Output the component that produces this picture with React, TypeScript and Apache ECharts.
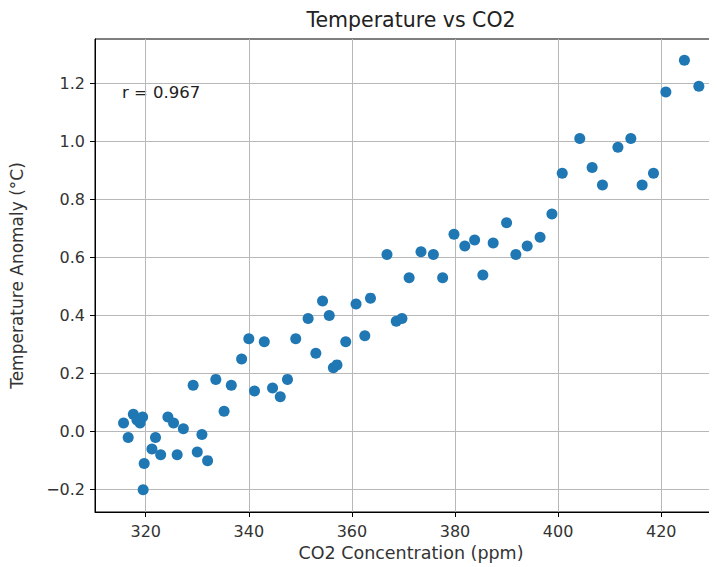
import React, { useEffect, useRef } from "react";
import * as echarts from "echarts";

const co2: number[] = [
  315.7, 316.6, 317.6, 318.3, 318.9, 319.4, 319.5, 319.7, 321.2, 321.9,
  322.9, 324.3, 325.4, 326.1, 327.3, 329.2, 330.0, 330.9, 332.0, 333.6,
  335.2, 336.6, 338.6, 340.0, 341.1, 343.0, 344.6, 346.1, 347.5, 349.1,
  351.5, 353.0, 354.3, 355.6, 356.4, 357.1, 358.8, 360.8, 362.5, 363.6,
  366.8, 368.6, 369.7, 371.1, 373.4, 375.8, 377.6, 379.8, 381.9, 383.8,
  385.4, 387.4, 390.0, 391.8, 394.0, 396.5, 398.8, 400.8, 404.2, 406.6,
  408.6, 411.6, 414.1, 416.3, 418.5, 420.9, 424.5, 427.3,
];
const temp: number[] = [
  0.03, -0.02, 0.06, 0.04, 0.03, 0.05, -0.2, -0.11, -0.06, -0.02,
  -0.08, 0.05, 0.03, -0.08, 0.01, 0.16, -0.07, -0.01, -0.1, 0.18,
  0.07, 0.16, 0.25, 0.32, 0.14, 0.31, 0.15, 0.12, 0.18, 0.32,
  0.39, 0.27, 0.45, 0.4, 0.22, 0.23, 0.31, 0.44, 0.33, 0.46,
  0.61, 0.38, 0.39, 0.53, 0.62, 0.61, 0.53, 0.68, 0.64, 0.66,
  0.54, 0.65, 0.72, 0.61, 0.64, 0.67, 0.75, 0.89, 1.01, 0.91,
  0.85, 0.98, 1.01, 0.85, 0.89, 1.17, 1.28, 1.19,
];
const xTicks: number[] = [320, 340, 360, 380, 400, 420];
const yTicks: number[] = [-0.2, 0, 0.2, 0.4, 0.6, 0.8, 1.0, 1.2];
const titleText = "Temperature vs CO2";
const xLabel = "CO2 Concentration (ppm)";
const yLabel = "Temperature Anomaly (°C)";
const rText = "r = 0.967";

const FONT = "DejaVu Sans";

export default function App() {
  const ref = useRef<HTMLDivElement>(null);
  useEffect(() => {
    if (!ref.current) return;
    const chart = echarts.init(ref.current, null, { renderer: "svg" });
    const data = co2.map((c, i) => [c, temp[i]]);
    chart.setOption({
      animation: false,
      backgroundColor: "#ffffff",
      grid: {
        left: 95,
        top: 39,
        right: -10,
        bottom: 55,
        outerBoundsMode: "none",
        containLabel: false,
        show: true,
        borderColor: "#000000",
        borderWidth: 1,
        backgroundColor: "transparent",
      },
      graphic: [
        {
          type: "text",
          x: 411,
          y: 20,
          style: {
            text: titleText,
            font: `20.5px '${FONT}'`,
            fill: "#222",
            textAlign: "center",
            textVerticalAlign: "middle",
          },
        },
        {
          type: "text",
          x: 122,
          y: 92,
          style: {
            text: rText,
            font: `16.5px '${FONT}'`,
            fill: "#222",
            textVerticalAlign: "middle",
          },
        },
      ],
      xAxis: {
        type: "value",
        min: 310.16,
        max: 432.76,
        name: xLabel,
        nameLocation: "middle",
        nameGap: 31,
        nameTextStyle: { fontFamily: FONT, fontSize: 17.5, color: "#333" },
        axisLine: { show: true, onZero: false, lineStyle: { color: "#000", width: 1 } },
        axisTick: { show: true, length: 5, customValues: xTicks, lineStyle: { color: "#000" } },
        axisLabel: {
          fontFamily: FONT,
          fontSize: 16,
          color: "#333",
          margin: 11,
          customValues: xTicks,
          formatter: (v: number) => String(Math.round(v)),
        },
        splitLine: { show: true, lineStyle: { color: "#b8b8b8", width: 1 } },
      },
      yAxis: {
        type: "value",
        min: -0.277,
        max: 1.353,
        name: yLabel,
        nameLocation: "middle",
        nameGap: 70,
        nameTextStyle: { fontFamily: FONT, fontSize: 17, color: "#333" },
        axisLine: { show: true, onZero: false, lineStyle: { color: "#000", width: 1 } },
        axisTick: { show: true, length: 5, customValues: yTicks, lineStyle: { color: "#000" } },
        axisLabel: {
          fontFamily: FONT,
          fontSize: 16,
          color: "#333",
          margin: 10,
          customValues: yTicks,
          formatter: (v: number) => {
            const r = Math.round(v * 10) / 10;
            const s = Math.abs(r).toFixed(1);
            return r < 0 ? "\u2212" + s : s;
          },
        },
        splitLine: { show: true, lineStyle: { color: "#b8b8b8", width: 1 } },
      },
      series: [
        {
          type: "scatter",
          data,
          symbol: "circle",
          symbolSize: 11,
          itemStyle: { color: "#1f77b4", opacity: 1 },
        },
      ],
    });
    return () => chart.dispose();
  }, []);
  return <div ref={ref} style={{ width: 717, height: 567, marginLeft: -8, marginTop: -8 }} />;
}
